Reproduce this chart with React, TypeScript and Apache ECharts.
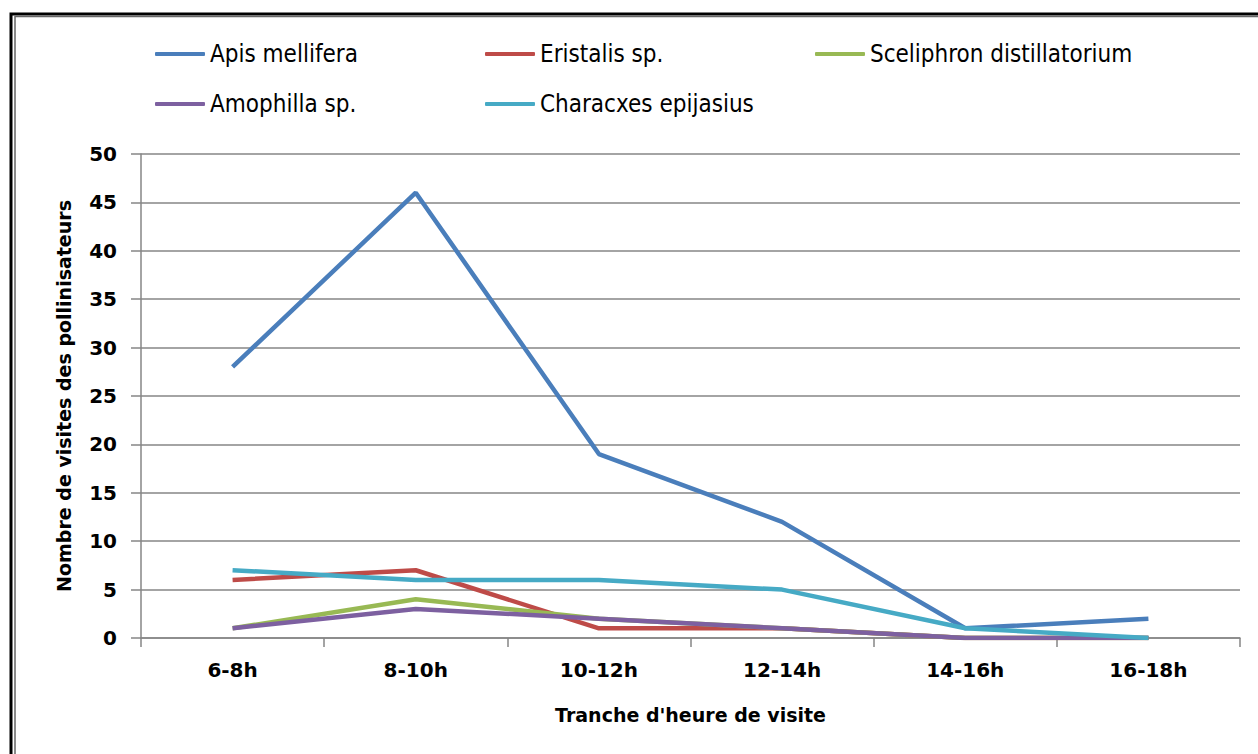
import React, { useEffect, useRef } from "react";
import * as echarts from "echarts";

const categories = ["6-8h", "8-10h", "10-12h", "12-14h", "14-16h", "16-18h"];
const seriesNames = [
  "Apis mellifera",
  "Eristalis sp.",
  "Sceliphron distillatorium",
  "Amophilla sp.",
  "Characxes epijasius",
];
const apis = [28, 46, 19, 12, 1, 2];
const eristalis = [6, 7, 1, 1, 0, 0];
const sceliphron = [1, 4, 2, 1, 0, 0];
const amophilla = [1, 3, 2, 1, 0, 0];
const characxes = [7, 6, 6, 5, 1, 0];
const seriesValues = [apis, eristalis, sceliphron, amophilla, characxes];
const colors = ["#4A7EBB", "#BE4B48", "#98B954", "#7D60A0", "#46AAC5"];
const legendPos = [
  [155, 39],
  [485, 39],
  [815, 39],
  [155, 89],
  [485, 89],
];

export default function App() {
  const ref = useRef<HTMLDivElement>(null);
  useEffect(() => {
    if (!ref.current) return;
    const chart = echarts.init(ref.current, null, { renderer: "svg" });
    const legendFont = "'Liberation Sans Narrow', 'DejaVu Sans Condensed', sans-serif";
    const boldFont = "'DejaVu Sans', sans-serif";
    chart.setOption({
      animation: false,
      backgroundColor: "#ffffff",
      graphic: [
        {
          type: "rect",
          shape: { x: 11, y: 14, width: 1400, height: 1000 },
          style: { fill: "none", stroke: "#000", lineWidth: 3 },
          silent: true,
        },
        {
          type: "rect",
          shape: { x: 15, y: 16.5, width: 1400, height: 1000 },
          style: { fill: "none", stroke: "#666", lineWidth: 1.5 },
          silent: true,
        },
      ],
      legend: seriesNames.map((n, i) => ({
        data: [n],
        left: legendPos[i][0],
        top: legendPos[i][1],
        padding: 0,
        icon: "roundRect",
        itemWidth: 50,
        itemHeight: 4,
        itemGap: 8,
        selectedMode: false,
        textStyle: {
          fontFamily: legendFont,
          fontSize: 24,
          color: "#000",
          lineHeight: 30,
        },
      })),
      grid: { left: 141, right: 18, top: 154, bottom: 116, containLabel: false },
      xAxis: {
        type: "category",
        data: categories,
        boundaryGap: true,
        name: "Tranche d'heure de visite",
        nameLocation: "middle",
        nameGap: 67,
        nameTextStyle: {
          fontFamily: boldFont,
          fontWeight: "bold",
          fontSize: 19,
          color: "#000",
        },
        axisLine: { show: true, lineStyle: { color: "#868686", width: 1.5 } },
        axisTick: { show: true, length: 9, lineStyle: { color: "#868686", width: 1.5 } },
        axisLabel: {
          margin: 22,
          fontFamily: boldFont,
          fontWeight: "bold",
          fontSize: 20,
          color: "#000",
        },
        splitLine: { show: false },
      },
      yAxis: {
        type: "value",
        min: 0,
        max: 50,
        interval: 5,
        name: "Nombre de visites des pollinisateurs",
        nameLocation: "middle",
        nameGap: 68,
        nameTextStyle: {
          fontFamily: boldFont,
          fontWeight: "bold",
          fontSize: 19,
          color: "#000",
        },
        axisLine: { show: true, lineStyle: { color: "#868686", width: 1.5 } },
        axisTick: { show: true, length: 10, lineStyle: { color: "#868686", width: 1.5 } },
        axisLabel: {
          margin: 24,
          fontFamily: boldFont,
          fontWeight: "bold",
          fontSize: 20,
          color: "#000",
        },
        splitLine: { show: true, lineStyle: { color: "#868686", width: 1.5 } },
      },
      series: seriesNames.map((n, i) => ({
        name: n,
        type: "line",
        data: seriesValues[i],
        showSymbol: false,
        symbol: "none",
        color: colors[i],
        lineStyle: { color: colors[i], width: 4.5 },
      })),
    });
    return () => chart.dispose();
  }, []);
  return (
    <div
      ref={ref}
      style={{ position: "fixed", left: 0, top: 0, width: 1258, height: 754 }}
    />
  );
}
